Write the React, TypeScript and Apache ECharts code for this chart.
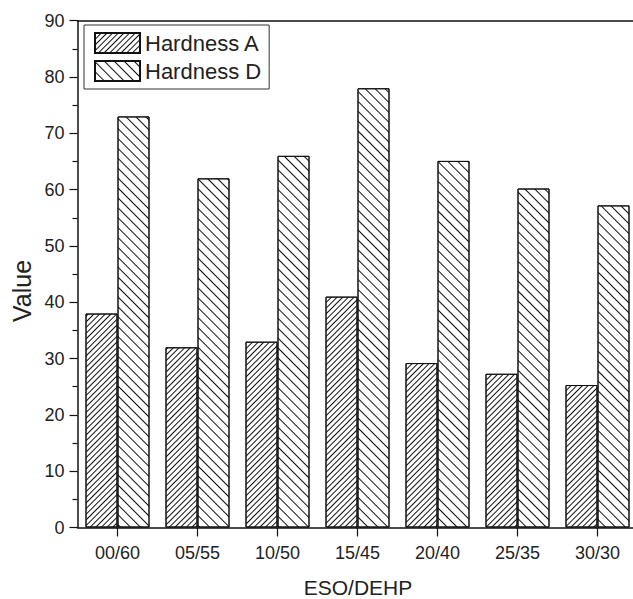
import React, { useEffect, useRef } from "react";
import * as echarts from "echarts";

// ESO/DEHP blend ratios and measured hardness values
const categories = ["00/60", "05/55", "10/50", "15/45", "20/40", "25/35", "30/30"];
const hardnessA = [38, 32, 33, 41, 29.2, 27.3, 25.3];
const hardnessD = [73, 62, 66, 78, 65.1, 60.2, 57.2];
const seriesNames = ["Hardness A", "Hardness D"];
const yTitle = "Value";
const xTitle = "ESO/DEHP";

const FONT = "'Liberation Sans', Arial, Helvetica, sans-serif";
const INK = "#111";

// one spare band on the right: the frame continues past the visible edge
const BANDS = categories.length + 1;
const BAND_PX = 80;

export default function App() {
  const ref = useRef<HTMLDivElement>(null);

  useEffect(() => {
    if (!ref.current) return;
    const chart = echarts.init(ref.current, undefined, { renderer: "svg" });

    // fine forward hatch for Hardness A, wider back hatch for Hardness D
    const hatchA = {
      symbol: "rect",
      symbolSize: 1,
      color: INK,
      backgroundColor: "#fff",
      dashArrayX: [1, 0],
      dashArrayY: [1, 3],
      rotation: -Math.PI / 4,
    };
    const hatchD = {
      symbol: "rect",
      symbolSize: 1,
      color: INK,
      backgroundColor: "#fff",
      dashArrayX: [1, 0],
      dashArrayY: [1, 6],
      rotation: Math.PI / 4,
    };

    const shown = (index: number) => index < categories.length;

    chart.setOption({
      animation: false,
      backgroundColor: "#fff",
      textStyle: { fontFamily: FONT },
      grid: {
        left: 77.5,
        top: 20.7,
        width: BANDS * BAND_PX,
        height: 506.8,
        outerBoundsMode: "none",
        containLabel: false,
        show: false,
      },
      legend: {
        orient: "vertical",
        left: 84,
        top: 25,
        padding: [7, 8, 7, 10],
        itemWidth: 45,
        itemHeight: 20,
        itemGap: 6,
        borderColor: "#333",
        borderWidth: 1,
        icon: "rect",
        textStyle: { fontSize: 22, color: "#222", fontFamily: FONT },
        data: seriesNames,
      },
      xAxis: [
        {
          type: "category",
          data: categories,
          max: BANDS - 1,
          axisLine: { show: true, lineStyle: { color: INK, width: 1.5 } },
          axisTick: {
            show: true,
            alignWithLabel: true,
            interval: (index: number) => shown(index),
            length: 9,
            lineStyle: { color: INK, width: 1.2 },
          },
          axisLabel: {
            fontSize: 18,
            color: "#222",
            margin: 16,
            fontFamily: FONT,
            interval: (index: number) => shown(index),
            formatter: (v: string) => (v == null ? "" : String(v)),
          },
        },
        {
          // top frame line
          type: "category",
          position: "top",
          data: categories,
          max: BANDS - 1,
          axisLine: { show: true, lineStyle: { color: INK, width: 1.5 } },
          axisTick: { show: false },
          axisLabel: { show: false },
        },
      ],
      yAxis: {
        type: "value",
        min: 0,
        max: 90,
        interval: 10,
        axisLine: { show: true, lineStyle: { color: INK, width: 1.5 } },
        axisTick: { show: true, length: 8, lineStyle: { color: INK, width: 1.2 } },
        minorTick: { show: true, splitNumber: 2, length: 5, lineStyle: { color: INK, width: 1.2 } },
        splitLine: { show: false },
        axisLabel: { fontSize: 18, color: "#222", margin: 13, fontFamily: FONT },
      },
      series: [
        {
          name: seriesNames[0],
          type: "bar",
          data: hardnessA,
          barWidth: 32,
          barGap: "0%",
          itemStyle: { color: "#fff", borderColor: INK, borderWidth: 1, decal: hatchA },
        },
        {
          name: seriesNames[1],
          type: "bar",
          data: hardnessD,
          barWidth: 32,
          barGap: "0%",
          itemStyle: { color: "#fff", borderColor: INK, borderWidth: 1, decal: hatchD },
        },
      ],
      graphic: [
        {
          type: "text",
          x: 22,
          y: 291,
          rotation: Math.PI / 2,
          style: {
            text: yTitle,
            fontSize: 25,
            fontFamily: FONT,
            fill: "#222",
            textAlign: "center",
            textVerticalAlign: "middle",
          },
        },
        {
          type: "text",
          x: 358,
          y: 587,
          style: {
            text: xTitle,
            fontSize: 21,
            lineHeight: 20,
            fontFamily: FONT,
            fill: "#222",
            textAlign: "center",
            textVerticalAlign: "middle",
          },
        },
      ],
    });

    return () => chart.dispose();
  }, []);

  return (
    <div
      style={{
        position: "absolute",
        left: 0,
        top: 0,
        width: 633,
        height: 599,
        overflow: "hidden",
        background: "#fff",
      }}
    >
      <div ref={ref} style={{ width: 760, height: 599 }} />
    </div>
  );
}
